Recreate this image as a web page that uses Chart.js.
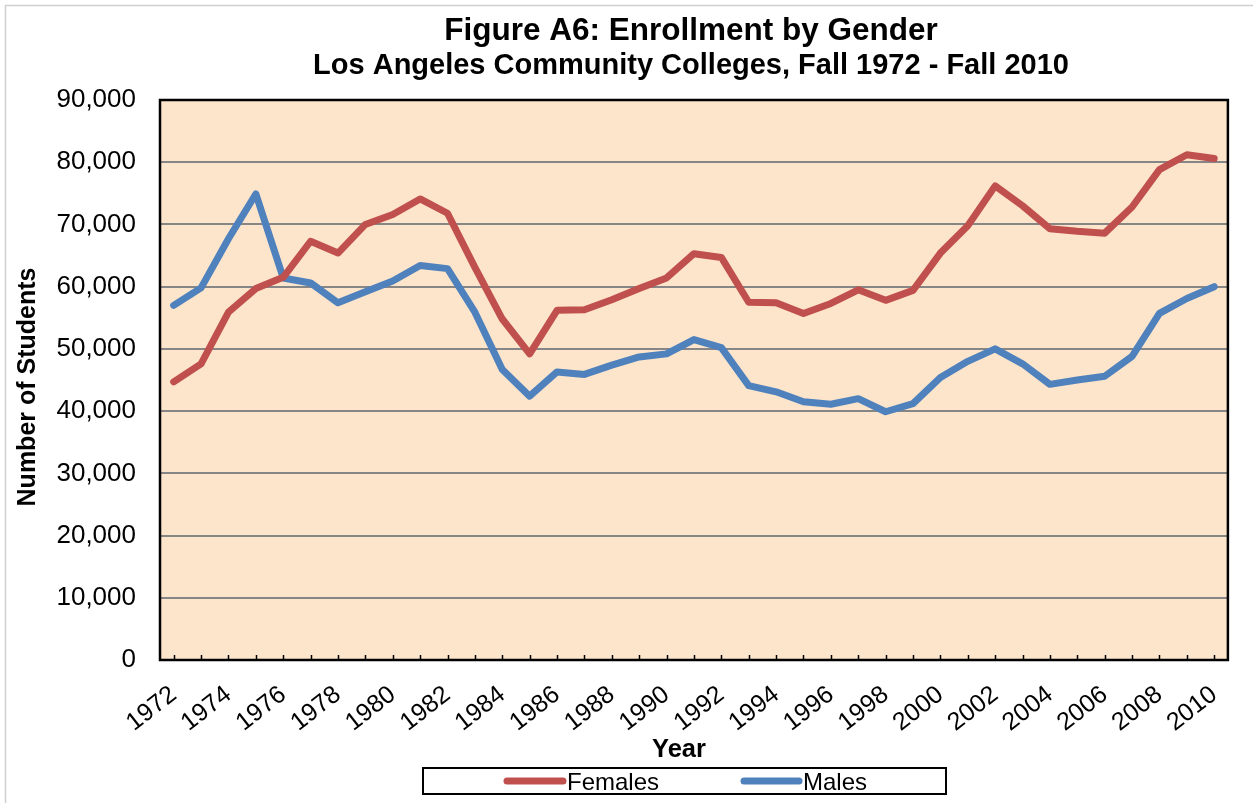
<!DOCTYPE html>
<html>
<head>
<meta charset="utf-8">
<script src="https://cdn.jsdelivr.net/npm/chart.js@4.4.1/dist/chart.umd.min.js"></script>
<style>
  html, body { margin: 0; padding: 0; background: #ffffff; }
  #wrap { position: relative; width: 1253px; height: 803px; }
</style>
</head>
<body>
<div id="wrap"><canvas id="c"></canvas></div>
<script>
const years = [1972,1973,1974,1975,1976,1977,1978,1979,1980,1981,1982,1983,1984,1985,1986,1987,1988,1989,1990,1991,1992,1993,1994,1995,1996,1997,1998,1999,2000,2001,2002,2003,2004,2005,2006,2007,2008,2009,2010];
const females = [44700,47600,55900,59700,61500,67300,65400,70000,71600,74100,71800,63100,54800,49200,56200,56300,57900,59700,61400,65300,64700,57500,57400,55700,57300,59500,57800,59400,65400,69800,76200,73000,69300,68900,68600,72800,78800,81200,80600];
const males = [57000,59800,67700,74900,61400,60600,57400,59200,60900,63400,62900,55900,46700,42400,46300,45900,47400,48700,49200,51500,50200,44100,43100,41500,41100,42000,39900,41200,45400,48000,50000,47600,44300,45000,45600,48800,55700,58100,60000];
const seriesNames = ["Females", "Males"];
const titleText = "Figure A6: Enrollment by Gender";
const subtitleText = "Los Angeles Community Colleges, Fall 1972 - Fall 2010";
const xTitle = "Year";
const yTitle = "Number of Students";

const FONT = "'Liberation Sans', Arial, Helvetica, sans-serif";
const RED = "#C0504D";
const BLUE = "#4F81BD";

const decor = {
  id: 'decor',
  beforeDraw(chart) {
    const {ctx, chartArea: a} = chart;
    ctx.save();
    ctx.fillStyle = "#FDE5CB";
    ctx.fillRect(a.left, a.top, a.right - a.left, a.bottom - a.top);
    ctx.strokeStyle = "#D0D0D0";
    ctx.lineWidth = 1.5;
    ctx.beginPath();
    ctx.moveTo(5.5, 803); ctx.lineTo(5.5, 5.5); ctx.lineTo(1253, 5.5);
    ctx.stroke();
    ctx.restore();
  },
  afterDraw(chart) {
    const {ctx, chartArea: a} = chart;
    const xs = chart.scales.x;
    ctx.save();
    ctx.strokeStyle = "#000";
    ctx.lineWidth = 2.5;
    ctx.strokeRect(a.left, a.top, a.right - a.left, a.bottom - a.top);
    ctx.lineWidth = 1.5;
    ctx.beginPath();
    for (let i = 0; i < years.length; i++) {
      const x = Math.round(xs.getPixelForValue(i)) + 0.5;
      ctx.moveTo(x, a.bottom);
      ctx.lineTo(x, a.bottom - 5);
    }
    ctx.stroke();
    ctx.fillStyle = "#000";
    ctx.textAlign = "center";
    ctx.textBaseline = "alphabetic";
    ctx.font = "bold 31.5px " + FONT;
    ctx.fillText(titleText, 691, 39.5);
    ctx.font = "bold 29px " + FONT;
    ctx.fillText(subtitleText, 691, 73.5);
    ctx.font = "bold 25.5px " + FONT;
    ctx.fillText(xTitle, 679, 756.5);
    ctx.save();
    ctx.translate(34.5, 387);
    ctx.rotate(-Math.PI / 2);
    ctx.font = "bold 25px " + FONT;
    ctx.fillText(yTitle, 0, 0);
    ctx.restore();
    ctx.strokeStyle = "#000";
    ctx.lineWidth = 2;
    ctx.strokeRect(423, 768, 523, 26);
    const ds = chart.data.datasets;
    const items = [{x1: 507, x2: 563, tx: 567}, {x1: 744, x2: 799, tx: 803}];
    ctx.font = "24px " + FONT;
    ctx.textAlign = "left";
    ctx.lineCap = "round";
    items.forEach((it, k) => {
      ctx.strokeStyle = ds[k].borderColor;
      ctx.lineWidth = 7;
      ctx.beginPath();
      ctx.moveTo(it.x1, 781);
      ctx.lineTo(it.x2, 781);
      ctx.stroke();
      ctx.fillStyle = "#000";
      ctx.fillText(ds[k].label, it.tx, 790);
    });
    ctx.restore();
  }
};

new Chart(document.getElementById('c'), {
  type: 'line',
  data: {
    labels: years.map(String),
    datasets: [
      { label: seriesNames[0], data: females, borderColor: RED, backgroundColor: RED,
        borderWidth: 7, pointRadius: 0, tension: 0, fill: false,
        borderCapStyle: 'round', borderJoinStyle: 'round' },
      { label: seriesNames[1], data: males, borderColor: BLUE, backgroundColor: BLUE,
        borderWidth: 7, pointRadius: 0, tension: 0, fill: false,
        borderCapStyle: 'round', borderJoinStyle: 'round' }
    ]
  },
  options: {
    responsive: true,
    maintainAspectRatio: false,
    animation: false,
    layout: { padding: { left: 0, right: 25, top: 100, bottom: 0 } },
    plugins: {
      legend: { display: false },
      title: { display: false },
      tooltip: { enabled: false }
    },
    scales: {
      x: {
        type: 'category',
        offset: true,
        grid: { display: false, drawTicks: false },
        border: { display: false },
        ticks: {
          autoSkip: false,
          minRotation: 38, maxRotation: 38,
          padding: 20,
          color: "#000",
          font: { family: FONT, size: 25 },
          callback: function(v, i) { return (i % 2 === 0) ? years[i] : ''; }
        },
        afterFit(scale) { scale.height = 143; }
      },
      y: {
        min: 0, max: 90000,
        grid: { color: "#868686", lineWidth: 2, drawTicks: false },
        border: { display: false },
        ticks: {
          stepSize: 10000,
          padding: 24,
          color: "#000",
          font: { family: FONT, size: 26 },
          callback: v => v.toLocaleString('en-US')
        },
        afterFit(scale) { scale.width = 160; }
      }
    }
  },
  plugins: [decor]
});
</script>
</body>
</html>
